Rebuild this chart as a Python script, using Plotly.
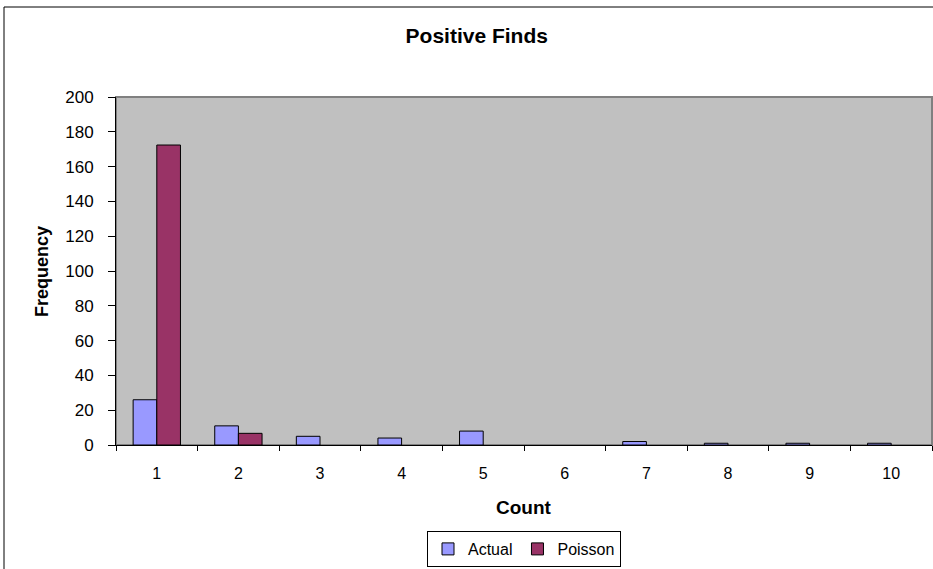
import plotly.graph_objects as go

categories = ["1", "2", "3", "4", "5", "6", "7", "8", "9", "10"]
actual = [26, 11, 5, 4, 8, None, 2, 1, 1, 1]
poisson = [172.4, 6.7, None, None, None, None, None, None, None, None]
y_ticks = [0, 20, 40, 60, 80, 100, 120, 140, 160, 180, 200]

FONT = "Liberation Sans, Arial, sans-serif"

fig = go.Figure()
fig.add_trace(go.Bar(x=categories, y=actual, name="Actual",
                     marker=dict(color="#9999FF", line=dict(color="black", width=1))))
fig.add_trace(go.Bar(x=categories, y=poisson, name="Poisson",
                     marker=dict(color="#993366", line=dict(color="black", width=1))))

fig.update_layout(
    width=933, height=569,
    margin=dict(l=116, r=1, t=97, b=124, autoexpand=False),
    paper_bgcolor="white",
    plot_bgcolor="#C0C0C0",
    font=dict(family=FONT, size=16, color="black"),
    barmode="group", bargap=0.42, bargroupgap=0,
    title=dict(text="<b>Positive Finds</b>", x=0.511, xref="container", xanchor="center",
               y=1 - 36 / 569, yref="container", yanchor="middle",
               font=dict(family=FONT, size=21, color="black")),
    showlegend=True,
    legend=dict(orientation="h", x=0.5, xanchor="center", y=(445 - 549) / 348, yanchor="middle",
                bordercolor="black", borderwidth=1, bgcolor="white",
                font=dict(family=FONT, size=16), itemwidth=30,
                traceorder="normal"),
    xaxis=dict(type="category", range=[-0.5, 9.5], showgrid=False,
               showline=True, linecolor="black", linewidth=1,
               ticks="outside", tickson="boundaries", ticklen=5, tickcolor="black",
               ticklabelstandoff=14,
               tickfont=dict(family=FONT, size=16), fixedrange=True),
    yaxis=dict(range=[0, 200], tickvals=y_ticks, showgrid=False, zeroline=False,
               showline=True, linecolor="black", linewidth=1,
               ticks="outside", ticklen=7, tickcolor="black",
               ticklabelstandoff=11,
               tickfont=dict(family=FONT, size=17), fixedrange=True),
    annotations=[
        dict(text="<b>Frequency</b>", xref="paper", yref="paper", x=(42 - 116) / 816, y=0.497,
             textangle=-90, showarrow=False, xanchor="center", yanchor="middle",
             font=dict(family=FONT, size=18)),
        dict(text="<b>Count</b>", xref="paper", yref="paper", x=0.5, y=(445 - 507) / 348,
             showarrow=False, xanchor="center", yanchor="middle",
             font=dict(family=FONT, size=19)),
    ],
    shapes=[
        dict(type="rect", xref="paper", yref="paper", x0=0, x1=1, y0=0, y1=1,
             line=dict(color="#808080", width=2), layer="below"),
        dict(type="rect", xref="paper", yref="paper", x0=(4 - 116) / 816, x1=(940 - 116) / 816,
             y0=(445 - 580) / 348, y1=(445 - 7) / 348,
             line=dict(color="black", width=1), fillcolor="rgba(0,0,0,0)", layer="below"),
    ],
)

fig.write_html("out.html", config={"displayModeBar": False},
               post_script="document.body.style.margin='0';document.body.style.overflow='hidden';")
